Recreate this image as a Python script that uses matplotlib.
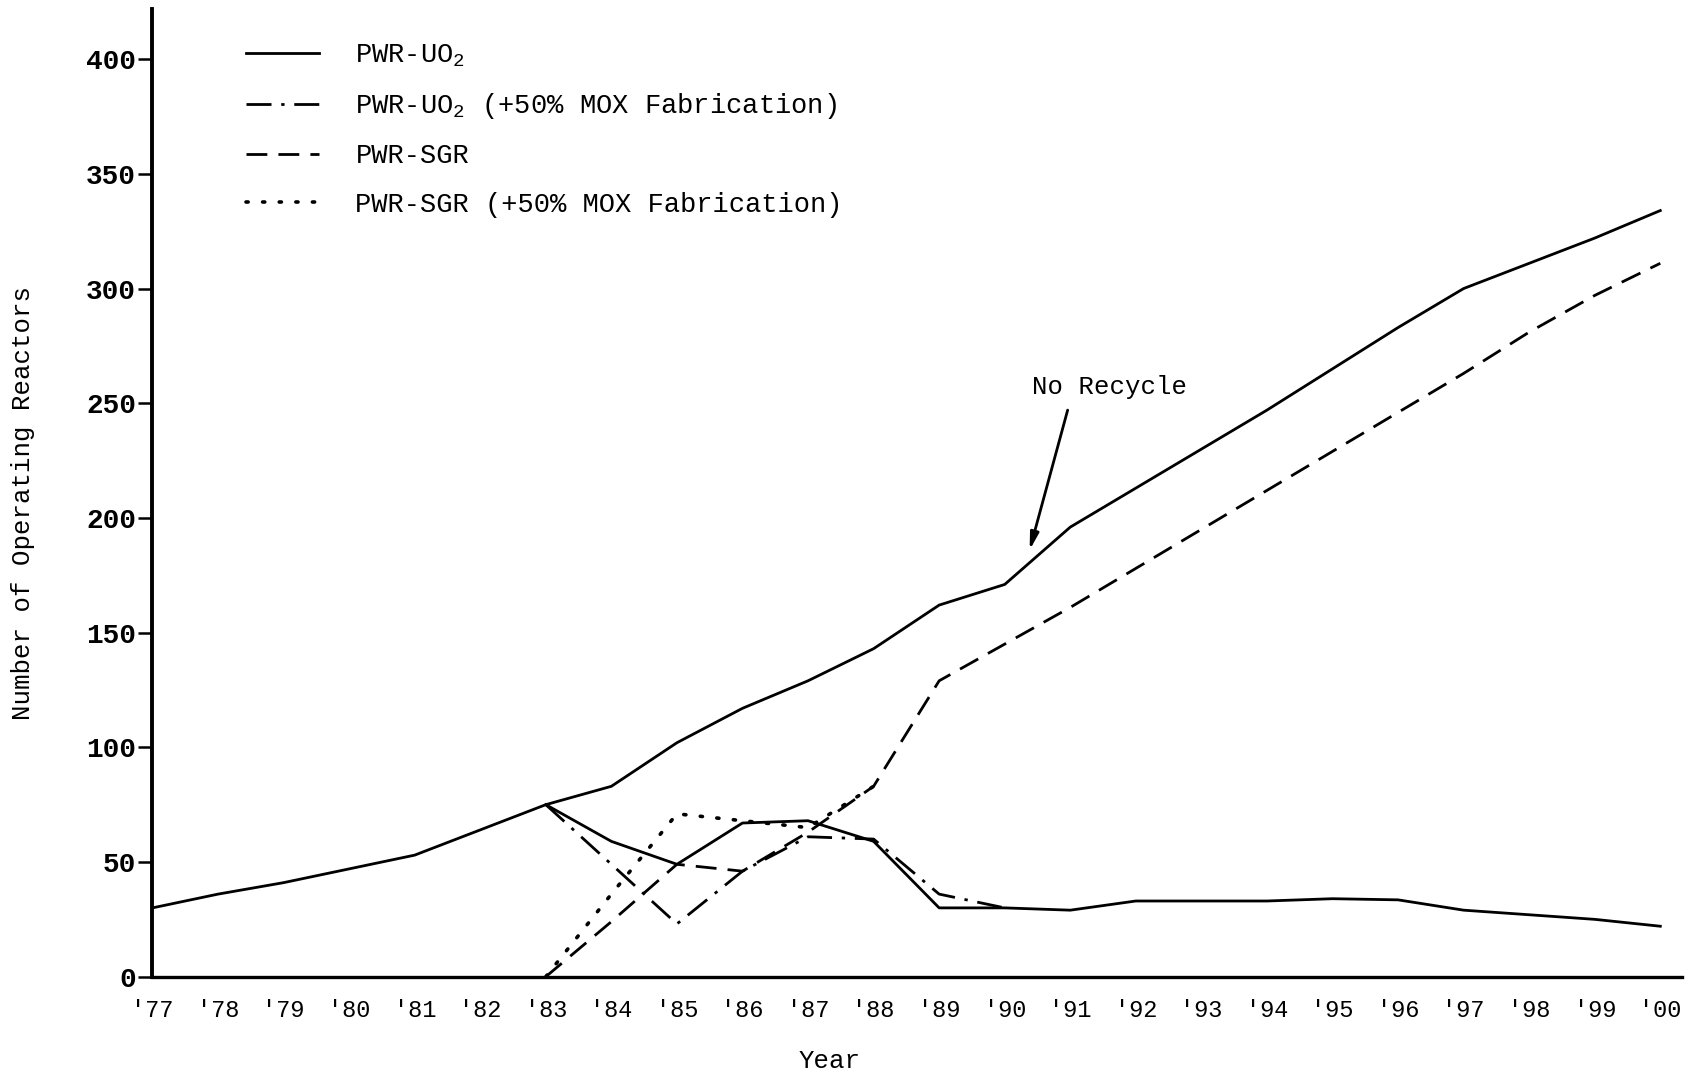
import matplotlib
matplotlib.use("Agg")
import matplotlib.pyplot as plt

plt.rcParams["font.family"] = ["Liberation Mono", "DejaVu Sans Mono"]
plt.rcParams["mathtext.default"] = "regular"

# years on the x axis ('77 .. '00)
years = list(range(77, 101))
year_labels = ["'%02d" % (y % 100) for y in years]

# operating reactors, no recycle, 1977-2000
no_recycle = [30, 36, 41, 47, 53, 64, 75, 83, 102, 117, 129, 143,
              162, 171, 196, 213, 230, 247, 265, 283, 300, 311, 322, 334]

# recycle cases start in 1983
recycle_years = list(range(83, 101))
pwr_uo2 = [75, 59, 49, 67, 68, 59, 30, 30, 29, 33, 33, 33, 34, 33.5, 29, 27, 25, 22]
pwr_sgr = [0, 24, 49, 46, 63, 83, 129, 145, 161, 178, 195, 212, 229, 246, 263, 281, 297, 311]

uo2_mox_years = list(range(83, 91))
pwr_uo2_mox = [75, 49, 23, 46, 61, 60, 36, 30]

sgr_mox_years = list(range(83, 89))
pwr_sgr_mox = [0, 36, 71, 68, 65, 83]

fig = plt.figure(figsize=(16.96, 10.74), dpi=100)
ax = fig.add_axes([0.0899, 0.0906, 0.9018, 0.9013])

ax.plot(years, no_recycle, color="black", lw=2.0)
ax.plot(recycle_years, pwr_uo2, color="black", lw=2.0, label=r"PWR-UO$_2$")
ax.plot(uo2_mox_years, pwr_uo2_mox, color="black", lw=2.0,
        dashes=(9, 3.5, 1.2, 3.5), label=r"PWR-UO$_2$ (+50% MOX Fabrication)")
ax.plot(recycle_years, pwr_sgr, color="black", lw=2.0,
        dashes=(7.5, 4), label="PWR-SGR")
ax.plot(sgr_mox_years, pwr_sgr_mox, color="black", lw=2.6,
        dashes=(0.6, 4), dash_capstyle="round",
        label="PWR-SGR (+50% MOX Fabrication)")

# note on the upper curve
ax.text(91.6, 257, "No Recycle", fontsize=18.5, ha="center", va="center")
ax.annotate("", xy=(90.38, 186), xytext=(90.96, 247),
            arrowprops=dict(arrowstyle="-|>,head_length=1.0,head_width=0.25",
                            color="black", lw=2.0, shrinkA=0, shrinkB=0))

ax.set_xlim(77, 100.33)
ax.set_ylim(0, 422)

ax.set_xticks(years)
ax.set_xticklabels(year_labels, fontsize=17)
ax.tick_params(axis="x", length=0, pad=16)
ax.set_yticks(range(0, 401, 50))
ax.tick_params(axis="y", length=10, width=1.8, direction="out", pad=2,
               labelsize=20)
for t in ax.get_yticklabels():
    t.set_fontweight("bold")

for side in ("top", "right"):
    ax.spines[side].set_visible(False)
ax.spines["left"].set_linewidth(2.8)
ax.spines["bottom"].set_linewidth(2.4)

ax.set_ylabel("Number of Operating Reactors", fontsize=18.5)
ax.yaxis.set_label_coords(-0.077, 0.489)
ax.set_xlabel("Year", fontsize=18.5)
ax.xaxis.set_label_coords(0.443, -0.075)

ax.legend(loc="upper left", bbox_to_anchor=(0.061, 0.965), frameon=False,
          fontsize=19.5, handlelength=2.7, handletextpad=1.35,
          labelspacing=0.82, borderpad=0, borderaxespad=0)

fig.savefig("out.png", dpi=100)
